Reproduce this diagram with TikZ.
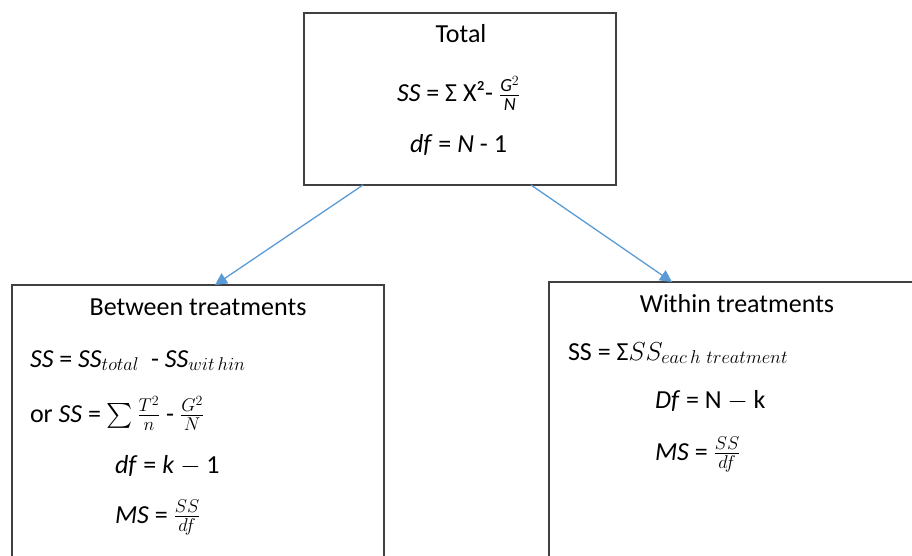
\documentclass[tikz,border=0pt]{standalone}
\usepackage{fix-cm}
\usepackage{amsmath}
\usepackage{fontspec}
\setmainfont{Carlito}
\usetikzlibrary{arrows.meta}
\DeclareMathSizes{26}{26}{18.5}{14}
\begin{document}
\begin{tikzpicture}[x=1pt,y=-1pt,
  box/.style={draw={rgb,255:red,64;green,64;blue,64},line width=1.4pt,inner sep=0pt,outer sep=0pt},
  txt/.style={inner sep=0pt,outer sep=0pt,anchor=base west,font=\fontsize{26}{31}\selectfont},
  head/.style={txt,anchor=base},
  link/.style={draw={rgb,255:red,91;green,155;blue,213},line width=1.3pt,-{Triangle[length=12pt,width=12pt]}}]
\path[use as bounding box] (0,0) rectangle (912,556);
% boxes
\node[box,minimum width=312pt,minimum height=172pt] (total) at (460,99) {};
\node[box,minimum width=372pt,minimum height=314pt] (between) at (198,442) {};
\node[box,minimum width=412pt,minimum height=318pt] (within) at (755,441) {};
% connectors
\draw[link] ([xshift=59pt]total.south west) -- ([xshift=203pt]between.north west);
\draw[link] ([xshift=227pt]total.south west) -- ([xshift=123pt]within.north west);
% total
\node[head] (totalhead) at (461,43) {Total};
\node[txt] (totalss) at (397,102) {\textit{SS} = Σ X²- $\frac{\mathit{G}^2}{\mathit{N}}$};
\node[txt] (totaldf) at (410,153) {\textit{df} = \textit{N} - 1};
% between treatments
\node[head] (betweenhead) at (198,315) {Between treatments};
\node[txt] (betweenss) at (30,367) {\textit{SS} = \textit{SS}$_{total}$ \ - \textit{SS}$_{wit\,hin}$};
\node[txt] (betweenor) at (30,422) {or \textit{SS} = $\sum\frac{T^2}{n}$ - $\frac{G^2}{N}$};
\node[txt] (betweendf) at (115,473) {\textit{df} = \textit{k} $-$ 1};
\node[txt] (betweenms) at (115,523) {\textit{MS} = $\frac{SS}{df}$};
% within treatments
\node[head] (withinhead) at (737,312) {Within treatments};
\node[txt] (withinss) at (568,360) {SS = Σ$SS_{eac\,h\ treatment}$};
\node[txt] (withindf) at (655,408) {\textit{Df} = N $-$ k};
\node[txt] (withinms) at (655,460) {\textit{MS} = $\frac{SS}{df}$};
\end{tikzpicture}
\end{document}
